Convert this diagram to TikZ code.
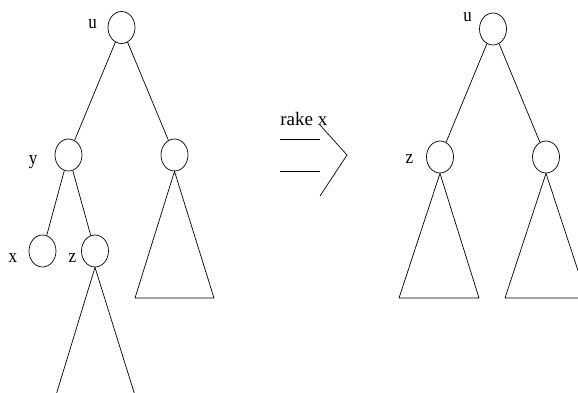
\documentclass[tikz,border=0pt]{standalone}
\usepackage{fontspec}
\setmainfont{Liberation Serif}
\usetikzlibrary{shapes.geometric}
\begin{document}
\begin{tikzpicture}[x=1pt,y=-1pt,line width=0.7pt,
  tnode/.style={draw,ellipse,minimum width=27pt,minimum height=32pt,inner sep=0pt},
  lbl/.style={font=\fontsize{17}{17}\selectfont,inner sep=0pt,anchor=base},
  ttl/.style={font=\fontsize{19}{19}\selectfont,inner sep=0pt,anchor=base west}]
\useasboundingbox (0,0) rectangle (578,392);
\clip (0,0) rectangle (578,392);
% left tree
\node[tnode] (u) at (121.5,27.5) {};
\node[tnode] (y) at (68.5,155) {};
\node[tnode] (r) at (174.5,155) {};
\node[tnode] (x) at (42.5,251) {};
\node[tnode] (z) at (95,251) {};
\node[lbl] (lu) at (92.5,28) {\scalebox{1}[1.15]{u}};
\node[lbl] (ly) at (33,164) {\scalebox{1}[1.15]{y}};
\node[lbl] (lx) at (13,262) {\scalebox{1}[1.15]{x}};
\node[lbl] (lz) at (72.5,262) {\scalebox{1}[1.15]{z}};
\draw (u) -- (y);
\draw (u) -- (r);
\draw (y) -- (x);
\draw (y) -- (z);
\coordinate (rl) at (135,298);
\coordinate (rr) at (214,298);
\draw (r.south) -- (rl) -- (rr) -- cycle;
\coordinate (zl) at (53,405);
\coordinate (zr) at (138,405);
\draw (zl) -- (z.south) -- (zr);
% arrow
\node[ttl] (rake) at (280,125) {rake x};
\coordinate (a1) at (280,139);
\coordinate (a2) at (320,139);
\coordinate (b1) at (280,171);
\coordinate (b2) at (320,171);
\coordinate (c1) at (320,125);
\coordinate (c2) at (347,155);
\coordinate (c3) at (320,196);
\draw (a1) -- (a2);
\draw (b1) -- (b2);
\draw (c1) -- (c2) -- (c3);
% right tree
\node[tnode] (u2) at (493,29) {};
\node[tnode] (z2) at (440,157) {};
\node[tnode] (r2) at (546,157) {};
\node[lbl] (lu2) at (467.5,21) {\scalebox{1}[1.15]{u}};
\node[lbl] (lz2) at (409.5,163) {\scalebox{1}[1.15]{z}};
\draw (u2) -- (z2);
\draw (u2) -- (r2);
\coordinate (zl2) at (399,298);
\coordinate (zr2) at (479,298);
\draw (z2.south) -- (zl2) -- (zr2) -- cycle;
\coordinate (rl2) at (505,298);
\coordinate (rr2) at (587,298);
\draw (r2.south) -- (rl2) -- (rr2) -- cycle;
\end{tikzpicture}
\end{document}
